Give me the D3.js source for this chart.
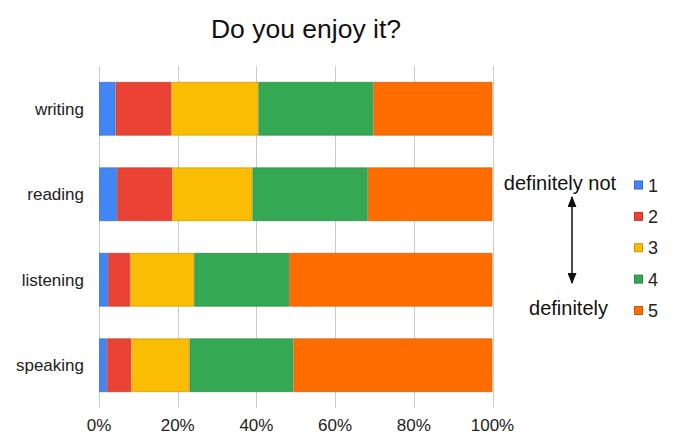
<!DOCTYPE html>
<html><head><meta charset="utf-8">
<script src="https://cdn.jsdelivr.net/npm/d3@7"></script>
<style>body{margin:0;background:#fff}svg{display:block;font-family:"Liberation Sans",Arial,sans-serif}</style>
</head><body>
<svg id="c" width="676" height="435"></svg>
<script>
const categories = ["writing", "reading", "listening", "speaking"];
const seriesNames = ["1", "2", "3", "4", "5"];
const s1 = [4.2, 4.6, 2.3, 2.0];
const s2 = [14.1, 14.0, 5.6, 6.2];
const s3 = [22.2, 20.4, 16.3, 14.8];
const s4 = [29.2, 29.3, 24.1, 26.4];
const s5 = [30.3, 31.7, 51.7, 50.6];
const colors = ["#4285f4", "#ea4335", "#fbbc04", "#34a853", "#ff6d00"];
const tickValues = [0, 20, 40, 60, 80, 100];
const title = "Do you enjoy it?";
const topLabel = "definitely not", bottomLabel = "definitely";

const svg = d3.select("#c");
const series = [s1, s2, s3, s4, s5];
const rows = categories.map((c, i) => {
  const o = {cat: c};
  seriesNames.forEach((s, j) => o[s] = series[j][i]);
  return o;
});
const stacked = d3.stack().keys(seriesNames).offset(d3.stackOffsetExpand)(rows);

const x = d3.scaleLinear().domain([0, 1]).range([99, 492.5]);
const y = d3.scaleBand().domain(categories).range([66, 408]).paddingInner(0.37).paddingOuter(0.185);

// gridlines
svg.append("g").selectAll("line").data(tickValues).join("line")
  .attr("x1", d => Math.round(x(d / 100)) + 0.5).attr("x2", d => Math.round(x(d / 100)) + 0.5)
  .attr("y1", 66).attr("y2", 408)
  .attr("stroke", "#cccccc").attr("stroke-width", 1);

// bars
svg.append("g").selectAll("g").data(stacked).join("g")
  .each(function(layer, li) {
    const col = colors[li];
    d3.select(this).selectAll("rect").data(layer).join("rect")
      .attr("x", d => x(d[0]) + 0.5)
      .attr("y", d => y(d.data.cat) + 0.5)
      .attr("width", d => Math.max(0, x(d[1]) - x(d[0]) - 1))
      .attr("height", y.bandwidth() - 1)
      .attr("fill", col)
      .attr("stroke", d3.color(col).darker(0.6))
      .attr("stroke-width", 1)
      .attr("stroke-opacity", 0.7);
  });

// category labels
svg.append("g").selectAll("text").data(categories).join("text")
  .attr("x", 84).attr("y", d => y(d) + y.bandwidth() / 2 + 6)
  .attr("text-anchor", "end").attr("font-size", 17).attr("fill", "#222")
  .text(d => d);

// x tick labels
svg.append("g").selectAll("text").data(tickValues).join("text")
  .attr("x", d => x(d / 100)).attr("y", 431)
  .attr("text-anchor", "middle").attr("font-size", 17).attr("fill", "#222")
  .text(d => d + "%");

// title
svg.append("text").attr("x", 306).attr("y", 37.5).attr("text-anchor", "middle")
  .attr("font-size", 26.5).attr("fill", "#111").text(title);

// legend
const ly = d3.scalePoint().domain(seriesNames).range([185, 310.5]);
const lg = svg.append("g");
lg.selectAll("rect").data(seriesNames).join("rect")
  .attr("x", 634.5).attr("y", d => ly(d) - 4).attr("width", 8).attr("height", 8)
  .attr("fill", (d, i) => colors[i])
  .attr("stroke", (d, i) => d3.color(colors[i]).darker(0.6)).attr("stroke-width", 1);
lg.selectAll("text").data(seriesNames).join("text")
  .attr("x", 648).attr("y", d => ly(d) + 6.5).attr("font-size", 18).attr("fill", "#222")
  .text(d => d);

// scale annotation
svg.append("text").attr("x", 560).attr("y", 189.5).attr("text-anchor", "middle")
  .attr("font-size", 20).attr("fill", "#111").text(topLabel);
svg.append("text").attr("x", 568.5).attr("y", 315).attr("text-anchor", "middle")
  .attr("font-size", 20).attr("fill", "#111").text(bottomLabel);

const defs = svg.append("defs");
defs.append("marker").attr("id", "ah").attr("viewBox", "0 0 10 10")
  .attr("refX", 9).attr("refY", 5).attr("markerWidth", 11).attr("markerHeight", 9)
  .attr("markerUnits", "userSpaceOnUse").attr("orient", "auto-start-reverse")
  .attr("preserveAspectRatio", "none")
  .append("path").attr("d", "M0,0 L10,5 L0,10 Z").attr("fill", "#111");
svg.append("line").attr("x1", 572).attr("x2", 572).attr("y1", 197).attr("y2", 283)
  .attr("stroke", "#111").attr("stroke-width", 1.5)
  .attr("marker-start", "url(#ah)").attr("marker-end", "url(#ah)");
</script>
</body></html>
